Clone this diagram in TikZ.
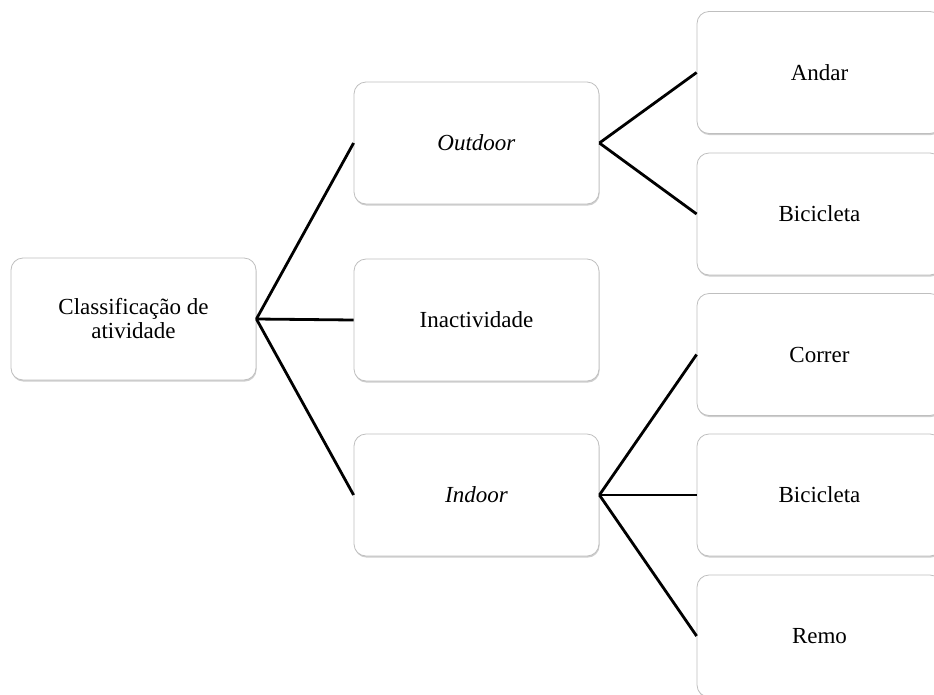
\documentclass[tikz,border=0pt]{standalone}
\usepackage{fontspec}
\setmainfont{Liberation Serif}
\usetikzlibrary{shadows}
\tikzset{
  card/.style={draw=black!25, line width=0.8pt, fill=white, rounded corners=12pt,
    minimum width=245pt, minimum height=122pt, inner sep=0pt, align=center,
    font=\fontsize{23}{24}\selectfont,
    drop shadow={shadow xshift=0.6pt, shadow yshift=-1.6pt, opacity=0.35, fill=black!55}},
  link/.style={line width=2.8pt, black}
}
\begin{document}
\begin{tikzpicture}[x=1pt, y=-1pt]
  \useasboundingbox (0,0) rectangle (934,694);
  \clip (0,0) rectangle (934,694);
  % root
  \node[card] (root) at (133.5,319) {Classificação de\\atividade};
  % second level
  \node[card] (out) at (476.5,143) {\textit{Outdoor}};
  \node[card] (inact) at (476.5,320) {Inactividade};
  \node[card] (ind) at (476.5,495) {\textit{Indoor}};
  % leaves
  \node[card] (andar) at (819.5,72.5) {Andar};
  \node[card] (bicA) at (819.5,214) {Bicicleta};
  \node[card] (corr) at (819.5,354.5) {Correr};
  \node[card] (bicB) at (819.5,495) {Bicicleta};
  \node[card] (remo) at (819.5,636) {Remo};
  % connectors
  \draw[link] (root.east) -- (out.west);
  \draw[link] (root.east) -- (inact.west);
  \draw[link] (root.east) -- (ind.west);
  \draw[link] (out.east) -- (andar.west);
  \draw[link] (out.east) -- (bicA.west);
  \draw[link] (ind.east) -- (corr.west);
  \draw[link] (ind.east) -- (bicB.west);
  \draw[link] (ind.east) -- (remo.west);
\end{tikzpicture}
\end{document}
